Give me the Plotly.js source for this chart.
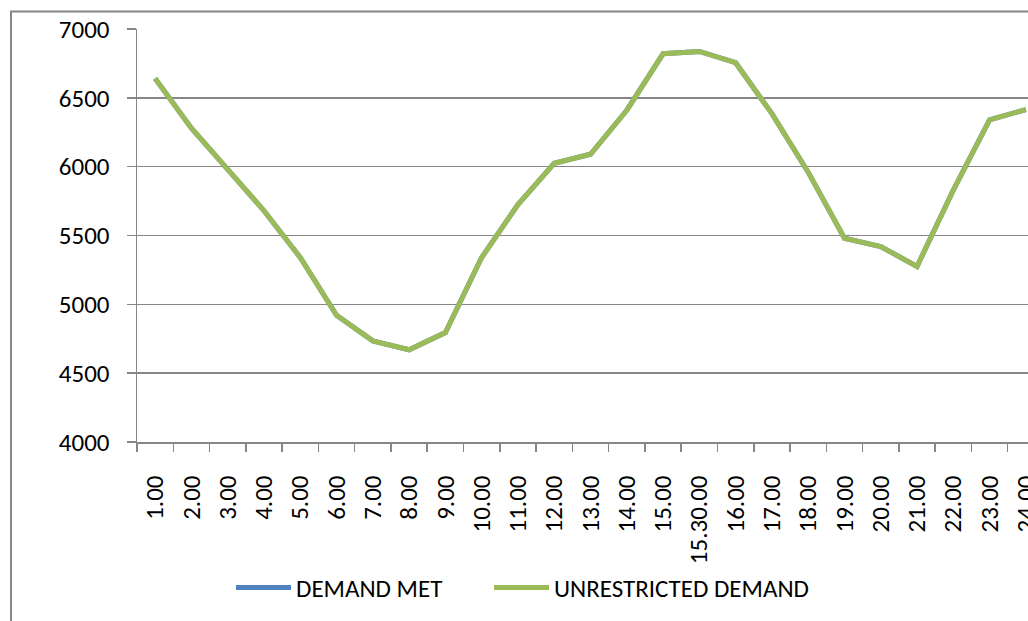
<!DOCTYPE html>
<html>
<head>
<meta charset="utf-8">
<script src="https://cdn.plot.ly/plotly-3.0.1.min.js"></script>
<style>
html, body { margin: 0; padding: 0; overflow: hidden; background: #fff; }
#chart { width: 1060px; height: 621px; }
</style>
</head>
<body>
<div id="chart"></div>
<script>
const categories = ["1.00","2.00","3.00","4.00","5.00","6.00","7.00","8.00","9.00","10.00","11.00","12.00","13.00","14.00","15.00","15.30.00","16.00","17.00","18.00","19.00","20.00","21.00","22.00","23.00","24.00"];
const demandMet = [6640,6280,5980,5680,5340,4920,4735,4670,4795,5340,5725,6025,6090,6410,6820,6837,6755,6385,5960,5480,5420,5275,5830,6340,6415];
const unrestrictedDemand = [6640,6280,5980,5680,5340,4920,4735,4670,4795,5340,5725,6025,6090,6410,6820,6837,6755,6385,5960,5480,5420,5275,5830,6340,6415];

const FONT = "Carlito, Lato, 'Open Sans', sans-serif";
const GRID = "#868686";

const traces = [
  { x: categories, y: demandMet, name: "DEMAND MET", type: "scatter", mode: "lines",
    line: { color: "#4F81BD", width: 5 }, legend: "legend" },
  { x: categories, y: unrestrictedDemand, name: "UNRESTRICTED DEMAND", type: "scatter", mode: "lines",
    line: { color: "#9BBB59", width: 5 }, legend: "legend2" }
];

const L = 137, R = 16, T = 28.5, B = 178;
const W = 1060, H = 621;
const pw = W - L - R, ph = H - T - B;
const px2x = p => (p - L) / pw;
const px2y = p => (H - B - p) / ph;

const legendBase = { orientation: "h", xanchor: "left", y: px2y(588), yanchor: "middle",
  font: { family: FONT, size: 25, color: "#000" }, itemwidth: 55, bgcolor: "rgba(0,0,0,0)" };

const layout = {
  width: W, height: H,
  margin: { l: L, r: R, t: T, b: B },
  paper_bgcolor: "#fff", plot_bgcolor: "#fff",
  font: { family: FONT, size: 25, color: "#000" },
  showlegend: true,
  legend: Object.assign({}, legendBase, { x: px2x(237 - 6) }),
  legend2: Object.assign({}, legendBase, { x: px2x(495 - 6) }),
  xaxis: {
    type: "category", tickson: "boundaries", showgrid: false, zeroline: false,
    showline: true, linecolor: GRID, linewidth: 1.5,
    ticks: "outside", ticklen: 8, tickcolor: GRID, tickwidth: 1.5,
    tickangle: -90, ticklabelstandoff: 22,
    tickfont: { family: FONT, size: 25, color: "#000" },
    range: [-0.5, 24.5], fixedrange: true
  },
  yaxis: {
    range: [4000, 7000], dtick: 500, tick0: 4000,
    showgrid: true, gridcolor: GRID, gridwidth: 1.5, zeroline: false,
    showline: true, linecolor: GRID, linewidth: 1.5,
    ticks: "outside", ticklen: 9, tickcolor: GRID, tickwidth: 1.5,
    ticklabelstandoff: 12,
    tickfont: { family: FONT, size: 25, color: "#000" }, fixedrange: true
  },
  shapes: [
    { type: "rect", xref: "paper", yref: "paper",
      x0: px2x(11), x1: px2x(1100), y0: px2y(700), y1: px2y(11),
      line: { color: GRID, width: 2 }, fillcolor: "rgba(0,0,0,0)", layer: "below" }
  ]
};

Plotly.newPlot("chart", traces, layout, { displayModeBar: false, staticPlot: true });
</script>
</body>
</html>
